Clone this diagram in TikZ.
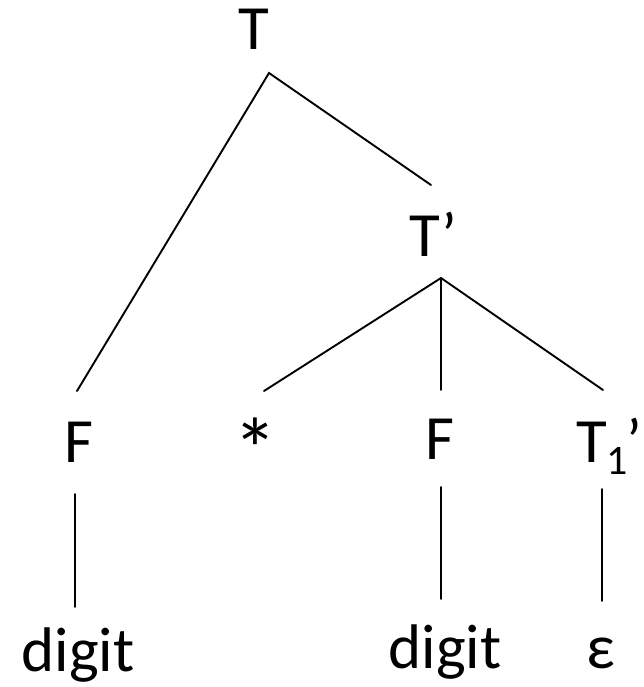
\documentclass[tikz,border=0pt]{standalone}
\usepackage{fontspec}
\setmainfont{Carlito}
\begin{document}
\begin{tikzpicture}[x=1pt,y=-1pt,
  lbl/.style={inner sep=0pt,outer sep=0pt,anchor=base,font=\fontsize{63}{63}\selectfont},
  edge/.style={line width=1.9pt,line cap=round}]
\useasboundingbox (0,0) rectangle (644,687);
% labels
\node[lbl] (T) at (254,50) {T};
\node[lbl,anchor=base west] (Tp) at (409,256) {T’};
\node[lbl] (F1) at (79,462) {F};
\node[lbl] (star) at (255,462) {\raisebox{-18.6pt}{\scalebox{1.4}{*}}};
\node[lbl] (F2) at (440,459) {F};
\node[lbl,anchor=base west] (T1p) at (576,462) {T\raisebox{-12pt}{\fontsize{42}{42}\selectfont 1}\kern-1pt’};
\node[lbl] (d1) at (78,671) {digit};
\node[lbl] (d2) at (445,668) {digit};
\node[lbl] (eps) at (601,668) {ε};
% connector ends
\coordinate (T-b) at (269,73);
\coordinate (Tp-t) at (431,185);
\coordinate (F1-t) at (77,391);
\coordinate (Tp-b) at (441,278);
\coordinate (star-t) at (264,391);
\coordinate (F2-t) at (441,390);
\coordinate (T1p-t) at (603,390);
\coordinate (F1-b) at (75,494);
\coordinate (d1-t) at (75,607);
\coordinate (F2-b) at (441,487);
\coordinate (d2-t) at (441,599);
\coordinate (T1p-b) at (602,489);
\coordinate (eps-t) at (602,601);
% connectors
\draw[edge] (F1-t) -- (T-b) -- (Tp-t);
\draw[edge] (star-t) -- (Tp-b) -- (T1p-t);
\draw[edge] (Tp-b) -- (F2-t);
\draw[edge] (F1-b) -- (d1-t);
\draw[edge] (F2-b) -- (d2-t);
\draw[edge] (T1p-b) -- (eps-t);
\end{tikzpicture}
\end{document}
